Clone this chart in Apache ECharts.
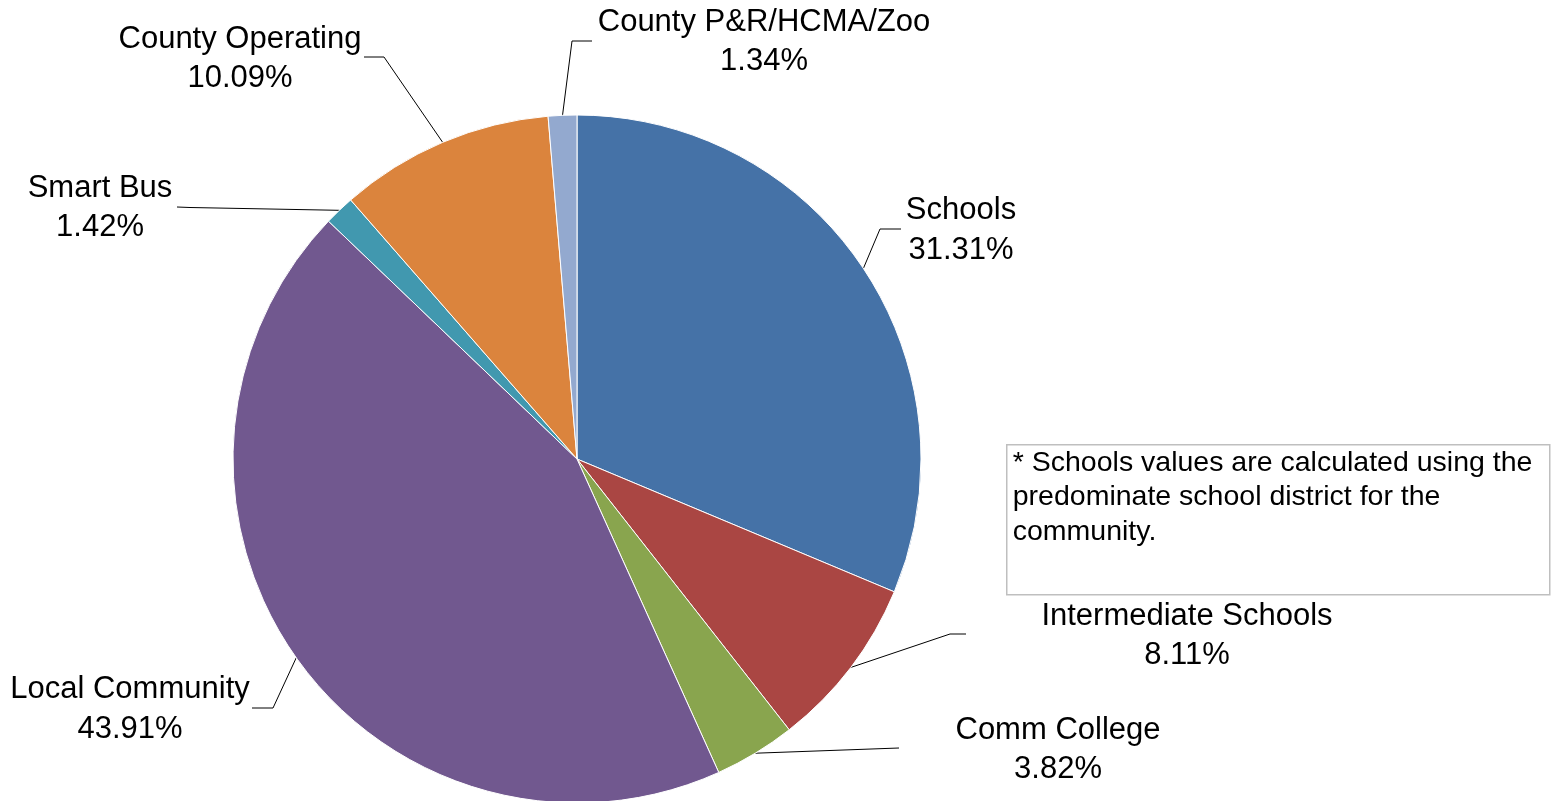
<!DOCTYPE html>
<html>
<head>
<meta charset="utf-8">
<script src="https://cdn.jsdelivr.net/npm/echarts@6/dist/echarts.min.js"></script>
<style>
html,body{margin:0;padding:0;background:#fff;}
#chart{width:1552px;height:801px;}
</style>
</head>
<body>
<div id="chart"></div>
<script>
const categories = ['Schools', 'Intermediate Schools', 'Comm College', 'Local Community', 'Smart Bus', 'County Operating', 'County P&R/HCMA/Zoo'];
const shares = [31.31, 8.11, 3.82, 43.91, 1.42, 10.09, 1.34];
const noteLines = ['* Schools values are calculated using the', 'predominate school district for the', 'community.'];

const palette = ['#4572A7', '#AA4643', '#89A54E', '#71588F', '#4198AF', '#DB843D', '#93A9CF'];

// label placement (layout only): label centre, leader elbow, leader end
const labelPlace = [
  { x: 961, y: 230.5, elbow: [880, 229], end: [901, 229] },
  { x: 1187, y: 636, elbow: [950, 634], end: [966, 634] },
  { x: 1058, y: 750, elbow: [885, 748.5], end: [899, 748] },
  { x: 130, y: 709.5, elbow: [273, 708], end: [252, 708] },
  { x: 100, y: 208, elbow: [190, 207.5], end: [177, 207] },
  { x: 240, y: 59, elbow: [384, 57], end: [364, 57] },
  { x: 764, y: 42, elbow: [572, 41], end: [592, 41] }
];

const chart = echarts.init(document.getElementById('chart'), null, { renderer: 'canvas' });

const option = {
  backgroundColor: '#fff',
  animation: false,
  series: [{
    type: 'pie',
    center: [577, 459],
    radius: 344,
    startAngle: 90,
    clockwise: true,
    avoidLabelOverlap: false,
    data: categories.map((c, i) => ({ name: c, value: shares[i], itemStyle: { color: palette[i] } })),
    itemStyle: { borderColor: '#ffffff', borderWidth: 1 },
    label: {
      show: true,
      position: 'outside',
      alignTo: 'none',
      formatter: p => p.name + '\n' + shares[p.dataIndex].toFixed(2) + '%',
      fontFamily: '"Liberation Sans", Arial, sans-serif',
      fontSize: 31,
      lineHeight: 39.5,
      color: '#000'
    },
    labelLine: {
      show: true,
      length: 20,
      length2: 20,
      lineStyle: { color: '#000', width: 1 }
    },
    labelLayout: function (params) {
      const L = labelPlace[params.dataIndex];
      const res = { x: L.x, y: L.y, align: 'center', verticalAlign: 'middle' };
      if (params.labelLinePoints && params.labelLinePoints[0]) {
        res.labelLinePoints = [params.labelLinePoints[0], L.elbow, L.end];
      }
      return res;
    },
    emphasis: { disabled: true }
  }],
  graphic: [{
    type: 'group',
    left: 1006,
    top: 444,
    children: [{
      type: 'rect',
      shape: { x: 0, y: 0, width: 543, height: 150 },
      style: { fill: '#fff', stroke: '#BFBFBF', lineWidth: 1.5 }
    }, {
      type: 'text',
      x: 6,
      y: 1,
      style: {
        text: noteLines.join('\n'),
        font: '28.5px "Liberation Sans", Arial, sans-serif',
        lineHeight: 34.5,
        fill: '#000',
        textAlign: 'left',
        textVerticalAlign: 'top'
      }
    }]
  }]
};
chart.setOption(option);
</script>
</body>
</html>
